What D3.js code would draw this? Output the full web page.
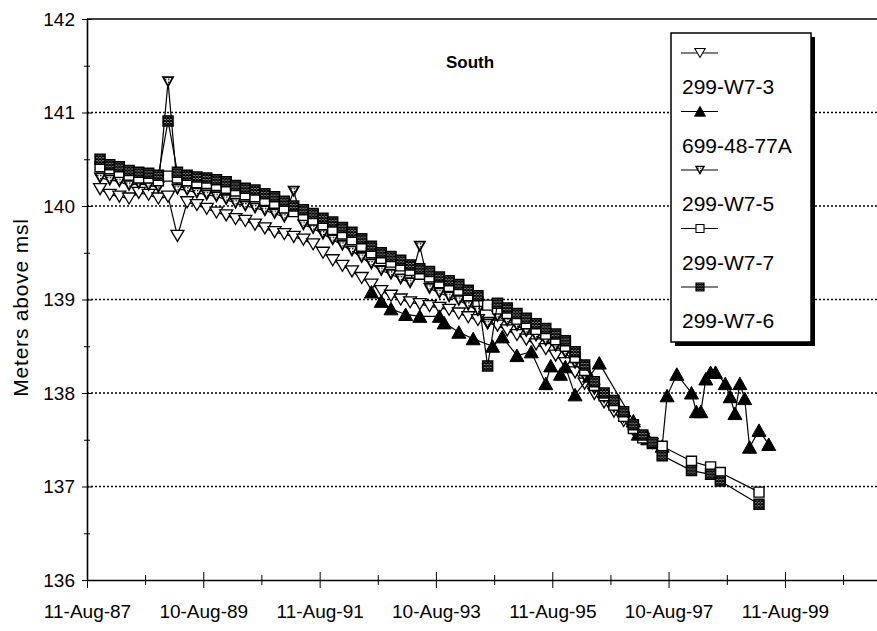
<!DOCTYPE html>
<html>
<head>
<meta charset="utf-8">
<script src="https://cdn.jsdelivr.net/npm/d3@7"></script>
<style>
  body { margin: 0; background: #fff; }
  text { font-family: Arial, "Liberation Sans", sans-serif; fill: #000; }
</style>
</head>
<body>
<div id="chart"></div>
<script>
// shared sampling dates (every two months) for the four 299-W7 wells
const dates = [
  "1987-11","1988-01","1988-03","1988-05","1988-07","1988-09","1988-11",
  "1989-01","1989-03","1989-05","1989-07","1989-09","1989-11",
  "1990-01","1990-03","1990-05","1990-07","1990-09","1990-11",
  "1991-01","1991-03","1991-05","1991-07","1991-09","1991-11",
  "1992-01","1992-03","1992-05","1992-07","1992-09","1992-11",
  "1993-01","1993-03","1993-05","1993-07","1993-09","1993-11",
  "1994-01","1994-03","1994-05","1994-07","1994-09","1994-11",
  "1995-01","1995-03","1995-05","1995-07","1995-09","1995-11",
  "1996-01","1996-03","1996-05","1996-07","1996-09","1996-11",
  "1997-01","1997-03","1997-05","1997-07","1997-09","1997-11",
  "1998-01","1998-03","1998-05","1998-07","1998-09","1998-11",
  "1999-01","1999-03"
];

const w7_3 = [
  140.18,140.12,140.10,140.08,140.14,140.12,140.08,
  140.10,139.68,140.04,140.01,139.97,139.93,
  139.90,139.86,139.84,139.80,139.76,139.72,
  139.70,139.67,139.64,139.59,139.50,139.42,
  139.36,139.30,139.23,139.16,139.09,139.04,
  139.00,138.97,138.95,138.93,138.91,138.89,
  138.85,138.81,138.78,138.75,138.72,138.67,
  138.62,138.57,138.52,138.47,138.40,138.32,
  138.22,138.10,137.99,137.90,137.80,137.70,
  137.60,137.51,null,null,null,null,
  null,null,null,null,null,null,
  null,null
];

const w7_5 = [
  140.30,140.28,140.26,140.22,140.24,140.22,140.20,
  141.33,140.18,140.17,140.14,140.12,140.10,
  140.07,140.03,140.00,139.98,139.95,139.92,
  139.88,140.16,139.80,139.76,139.70,139.64,
  139.58,139.52,139.45,139.38,139.31,139.27,
  139.22,139.18,139.57,139.12,139.07,139.03,
  138.99,138.94,138.88,138.74,138.82,138.77,
  138.72,138.66,138.61,138.56,138.50,138.43,
  138.32,138.18,138.04,137.95,137.85,137.74,
  137.62,137.53,137.46,null,null,null,
  null,null,null,null,null,null,
  null,null
];

const w7_7 = [
  140.42,140.40,140.36,140.33,140.30,140.30,140.27,
  140.32,140.30,140.27,140.25,140.24,140.22,
  140.19,140.16,140.12,140.10,140.06,140.03,
  139.98,139.94,139.90,139.85,139.80,139.75,
  139.70,139.64,139.57,139.50,139.44,139.40,
  139.36,139.31,139.27,139.24,139.18,139.14,
  139.10,139.04,138.98,138.94,138.90,138.85,
  138.79,138.74,138.68,138.63,138.57,138.50,
  138.38,138.24,138.08,137.97,137.87,137.75,
  137.62,137.52,137.46,137.43,null,null,
  137.27,null,137.21,137.15,null,null,
  null,136.94
];

const w7_6 = [
  140.50,140.44,140.42,140.38,140.36,140.35,140.33,
  140.91,140.36,140.33,140.31,140.30,140.28,
  140.26,140.22,140.19,140.17,140.13,140.10,
  140.05,140.00,139.96,139.92,139.87,139.83,
  139.77,139.72,139.65,139.57,139.50,139.46,
  139.42,139.37,139.33,139.30,139.24,139.20,
  139.16,139.10,139.04,138.29,138.96,138.91,
  138.85,138.80,138.74,138.69,138.63,138.56,
  138.44,138.30,138.12,138.00,137.92,137.80,
  137.66,137.55,137.47,137.33,null,null,
  137.17,null,137.13,137.06,null,null,
  null,136.81
];

// 699-48-77A has its own sampling dates
const dates699 = [
  "1992-07","1992-09","1992-11","1993-02","1993-05","1993-09","1993-10",
  "1994-01","1994-04","1994-08","1994-10","1995-01","1995-04","1995-07",
  "1995-08","1995-10","1995-11","1996-01","1996-04","1996-06","1997-01",
  "1997-02","1997-04","1997-07","1997-08","1997-10","1998-01","1998-02",
  "1998-03","1998-04","1998-05","1998-06","1998-08","1998-09","1998-10",
  "1998-11","1998-12","1999-01","1999-03","1999-05"
];
const v699 = [
  139.08,138.98,138.90,138.84,138.82,138.82,138.75,
  138.65,138.58,138.50,138.60,138.40,138.44,138.10,
  138.29,138.20,138.28,137.98,138.18,138.32,137.70,
  137.56,137.51,137.43,137.97,138.20,138.00,137.80,
  137.80,138.15,138.22,138.22,138.10,137.96,137.78,
  138.10,137.94,137.42,137.60,137.45
];

const seriesNames = ["299-W7-3", "699-48-77A", "299-W7-5", "299-W7-7", "299-W7-6"];

// axes
const yTicks = [136, 137, 138, 139, 140, 141, 142];
const yMinorTicks = [136.5, 137.5, 138.5, 139.5, 140.5, 141.5];
const xDomain = ["1987-08-11", "2001-03-11"];
const xMajorTicks = ["1987-08-11", "1989-08-10", "1991-08-11", "1993-08-10", "1995-08-11", "1997-08-10", "1999-08-11"];
const xMinorTicks = ["1988-08-10", "1990-08-10", "1992-08-10", "1994-08-11", "1996-08-10", "1998-08-11", "2000-08-10"];

const width = 877, height = 631;
const margin = { top: 19, right: 0, bottom: 51, left: 87 };
const innerW = width - margin.left - margin.right;
const innerH = height - margin.top - margin.bottom;

const parseMonth = d3.timeParse("%Y-%m");
const parseDay = d3.timeParse("%Y-%m-%d");

const svg = d3.select("#chart")
  .append("svg")
  .attr("width", width)
  .attr("height", height);

// fill patterns for the hatched markers
const defs = svg.append("defs");
const hatch = defs.append("pattern")
  .attr("id", "hatch")
  .attr("patternUnits", "userSpaceOnUse")
  .attr("width", 3).attr("height", 3);
hatch.append("rect").attr("width", 3).attr("height", 3).attr("fill", "#fff");
hatch.append("path").attr("d", "M0,3L3,0M0,0L3,3").attr("stroke", "#000").attr("stroke-width", 1.3);

const dots = defs.append("pattern")
  .attr("id", "dots")
  .attr("patternUnits", "userSpaceOnUse")
  .attr("width", 3).attr("height", 3);
dots.append("rect").attr("width", 3).attr("height", 3).attr("fill", "#fff");
dots.append("rect").attr("width", 1.4).attr("height", 1.4).attr("fill", "#000");

const g = svg.append("g").attr("transform", `translate(${margin.left},${margin.top})`);

const x = d3.scaleTime()
  .domain(xDomain.map(parseDay))
  .range([0, innerW]);

const y = d3.scaleLinear()
  .domain([136, 142])
  .range([innerH, 0]);

// dotted gridlines
g.selectAll(".grid")
  .data(yTicks.filter(v => v > 136 && v < 142))
  .enter()
  .append("line")
  .attr("x1", 0).attr("x2", innerW)
  .attr("y1", d => y(d)).attr("y2", d => y(d))
  .attr("stroke", "#000")
  .attr("stroke-width", 1.6)
  .attr("stroke-dasharray", "2,2");

// top border of the plot area
g.append("line")
  .attr("x1", 0).attr("x2", innerW)
  .attr("y1", y(142)).attr("y2", y(142))
  .attr("stroke", "#000").attr("stroke-width", 1.5);

// y axis, ticks crossing the line
const yAxis = g.append("g")
  .call(d3.axisLeft(y).tickValues(yTicks).tickSize(5).tickSizeOuter(0).tickFormat(d3.format("d")));
yAxis.selectAll(".tick line").attr("x1", 5);
yAxis.selectAll(".tick text").attr("x", -12).style("font-size", "19px");
yAxis.select(".domain").attr("stroke-width", 1.6);

const yMinor = g.append("g")
  .call(d3.axisLeft(y).tickValues(yMinorTicks).tickSize(3).tickSizeOuter(0).tickFormat(""));
yMinor.selectAll(".tick line").attr("x1", 3);
yMinor.select(".domain").remove();

// x axis
const xAxis = g.append("g")
  .attr("transform", `translate(0,${innerH})`)
  .call(d3.axisBottom(x).tickValues(xMajorTicks.map(parseDay)).tickSize(8).tickSizeOuter(0)
    .tickFormat(d3.timeFormat("%d-%b-%y")));
xAxis.selectAll(".tick line").attr("y1", -8);
xAxis.selectAll(".tick text").attr("y", 25).style("font-size", "19px");
xAxis.select(".domain").attr("stroke-width", 1.6);

const xMinor = g.append("g")
  .attr("transform", `translate(0,${innerH})`)
  .call(d3.axisBottom(x).tickValues(xMinorTicks.map(parseDay)).tickSize(5).tickSizeOuter(0).tickFormat(""));
xMinor.selectAll(".tick line").attr("y1", -5);
xMinor.select(".domain").remove();

// axis title
svg.append("text")
  .attr("transform", `translate(21,${margin.top + innerH / 2 + 8}) rotate(-90)`)
  .attr("text-anchor", "middle")
  .attr("dy", "0.35em")
  .style("font-size", "21px")
  .style("letter-spacing", "0.8px")
  .text("Meters above msl");

// chart title
svg.append("text")
  .attr("x", 470)
  .attr("y", 68)
  .attr("text-anchor", "middle")
  .style("font-size", "17px")
  .style("font-weight", "bold")
  .text("South");

// marker shapes
const markers = {
  "299-W7-3":   { d: "M-6.5,-5.5L6.5,-5.5L0,5.5Z", fill: "#fff", sw: 1.3 },
  "699-48-77A": { d: "M-7,6L7,6L0,-6.5Z", fill: "#000", sw: 1 },
  "299-W7-5":   { d: "M-5,-4.5L5,-4.5L0,4.5Z", fill: "url(#dots)", sw: 1.8 },
  "299-W7-7":   { d: "M-5,-5H5V5H-5Z", fill: "#fff", sw: 1.4 },
  "299-W7-6":   { d: "M-5,-5H5V5H-5Z", fill: "url(#hatch)", sw: 1.5 }
};

const toPoints = (ds, vals, parser) => ds
  .map((d, i) => ({ date: parser(d), value: vals[i] }))
  .filter(d => d.value !== null);

const series = [
  { name: "299-W7-3", pts: toPoints(dates, w7_3, parseMonth) },
  { name: "699-48-77A", pts: toPoints(dates699, v699, parseMonth) },
  { name: "299-W7-5", pts: toPoints(dates, w7_5, parseMonth) },
  { name: "299-W7-7", pts: toPoints(dates, w7_7, parseMonth) },
  { name: "299-W7-6", pts: toPoints(dates, w7_6, parseMonth) }
];

const line = d3.line()
  .x(d => x(d.date))
  .y(d => y(d.value));

series.forEach(s => {
  const m = markers[s.name];
  const sg = g.append("g");
  sg.append("path")
    .datum(s.pts)
    .attr("d", line)
    .attr("fill", "none")
    .attr("stroke", "#000")
    .attr("stroke-width", 1.2);
  sg.selectAll("path.mk")
    .data(s.pts)
    .enter()
    .append("path")
    .attr("class", "mk")
    .attr("transform", d => `translate(${x(d.date)},${y(d.value)})`)
    .attr("d", m.d)
    .attr("fill", m.fill)
    .attr("stroke", "#000")
    .attr("stroke-width", m.sw);
});

// legend box with shadow
const lg = svg.append("g").attr("transform", "translate(671,33)");
lg.append("rect")
  .attr("x", 4).attr("y", 4)
  .attr("width", 140).attr("height", 309)
  .attr("fill", "#000");
lg.append("rect")
  .attr("width", 140).attr("height", 309)
  .attr("fill", "#fff")
  .attr("stroke", "#000")
  .attr("stroke-width", 1.5);

seriesNames.forEach((name, i) => {
  const rowY = 20 + i * 58.5;
  const m = markers[name];
  lg.append("line")
    .attr("x1", 10).attr("x2", 47)
    .attr("y1", rowY).attr("y2", rowY)
    .attr("stroke", "#000").attr("stroke-width", 1.2);
  lg.append("path")
    .attr("transform", `translate(29,${rowY}) scale(0.8)`)
    .attr("d", m.d)
    .attr("fill", m.fill)
    .attr("stroke", "#000")
    .attr("stroke-width", m.sw);
  lg.append("text")
    .attr("x", 11)
    .attr("y", rowY + 34)
    .attr("dy", "0.35em")
    .style("font-size", "21px")
    .text(name);
});
</script>
</body>
</html>
